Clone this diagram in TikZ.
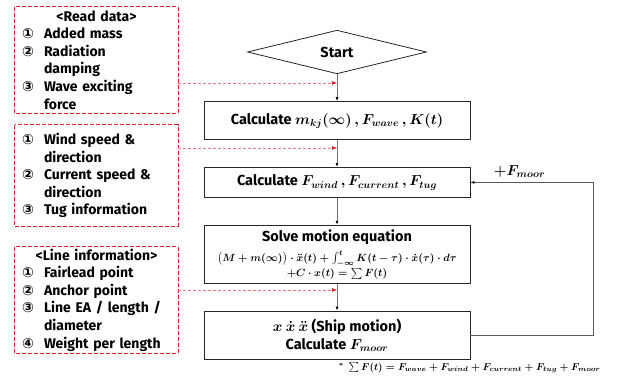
\RequirePackage{fix-cm}
\documentclass[tikz,border=0pt]{standalone}
\usepackage{amsmath,bm}
\usepackage{fontspec}
\setmainfont{Fira Sans}
\newfontfamily\circfont{DejaVu Sans}
\usetikzlibrary{arrows.meta,positioning,shapes.geometric}

\definecolor{inred}{RGB}{230,30,40}
\newcommand\itemno[1]{\makebox[22pt][l]{\circfont\bfseries #1}}
\newcommand\itemgap{\hspace*{22pt}}

\begin{document}
\begin{tikzpicture}[
  x=1pt,y=-1pt,
  node distance=27pt,
  every node/.style={font=\bfseries\boldmath\fontsize{14.5}{17}\selectfont},
  infobox/.style={minimum width=163pt,text width=152pt,inner sep=0pt,align=left,
    font=\bfseries\fontsize{14}{17.6}\selectfont},
  infoframe/.style={draw=inred,line width=1pt,dash pattern=on 4pt off 2pt},
  stepbox/.style={draw=black!85,line width=0.8pt,minimum width=266pt,inner sep=0pt,align=center},
  flow/.style={draw=black!55,line width=0.8pt,-{Latex[length=4pt,width=3pt,black]}},
  dataflow/.style={draw=inred!60,line width=0.6pt,dash pattern=on 3pt off 2pt,-{Latex[length=5pt,width=4pt,inred]}}
]
  \useasboundingbox (0,0) rectangle (623,379);

  % input data
  \node[infobox,minimum height=106pt] (readdata) at (98,60) {%
    \makebox[149pt]{<Read data>}\\
    \itemno{①}Added mass\\
    \itemno{②}Radiation\\
    \itemgap damping\\
    \itemno{③}Wave exciting\\
    \itemgap force};
  \node[infobox,minimum height=101pt] (envdata) at (98,175.5) {%
    \itemno{①}Wind speed \&\\
    \itemgap direction\\
    \itemno{②}Current speed \&\\
    \itemgap direction\\
    \itemno{③}Tug information};
  \node[infobox,minimum height=106pt] (lineinfo) at (98,300) {%
    \makebox[149pt]{<Line information>}\\
    \itemno{①}Fairlead point\\
    \itemno{②}Anchor point\\
    \itemno{③}Line EA / length /\\
    \itemgap diameter\\
    \itemno{④}Weight per length};
  \foreach \info in {readdata,envdata,lineinfo}
    \draw[infoframe] ([xshift=-1.5pt]\info.north west) rectangle ([xshift=-1.5pt]\info.south east);

  % main flow
  \node[draw=black!85,line width=0.8pt,diamond,minimum width=179pt,minimum height=38pt,inner sep=0pt] (start) at (337,52) {Start};
  \node[stepbox,minimum height=38pt,below=of start] (calcwave)
    {Calculate $m_{kj}(\infty)\,,F_{wave}\,,K(t)$};
  \node[stepbox,minimum height=30pt,below=of calcwave] (calcenv)
    {Calculate $F_{wind}\,,F_{current}\,,F_{tug}$};
  \node[stepbox,minimum height=58pt,below=of calcenv] (solve)
    {Solve motion equation\\[3pt]
     {\fontsize{10.5}{11}\selectfont$\bigl(M+m(\infty)\bigr)\cdot\ddot{x}(t)+\int_{-\infty}^{t}K(t-\tau)\cdot\dot{x}(\tau)\cdot d\tau$}\\[-2pt]
     {\fontsize{10.5}{11}\selectfont$+C\cdot x(t)=\sum F(t)$}};
  \node[stepbox,minimum height=48pt,below=of solve] (motion)
    {$x\ \dot{x}\ \ddot{x}$ (Ship motion)\\[1pt] Calculate $F_{moor}$};

  \draw[flow] (start) -- (calcwave);
  \draw[flow] (calcwave) -- (calcenv);
  \draw[flow] (calcenv) -- (solve);
  \draw[flow] (solve) -- (motion);
  \draw[flow,draw=black!65] (motion.east) -- ++(123,0) |- (calcenv.east)
    node[pos=0.8,above=1pt]{$+F_{moor}$};

  % data inputs
  \coordinate (wavein) at (337,83);
  \coordinate (envin) at (337,148);
  \coordinate (linein) at (337,290);
  \draw[dataflow] ([xshift=-1.5pt]readdata.east |- wavein) -- (wavein);
  \draw[dataflow] ([xshift=-1.5pt]envdata.east |- envin) -- (envin);
  \draw[dataflow] ([xshift=-1.5pt]lineinfo.east |- linein) -- (linein);

  \node[anchor=east,font=\boldmath\fontsize{10}{12}\selectfont] (sumnote) at (604,368)
    {$^{*}\ \sum F(t)=F_{wave}+F_{wind}+F_{current}+F_{tug}+F_{moor}$};
\end{tikzpicture}
\end{document}
